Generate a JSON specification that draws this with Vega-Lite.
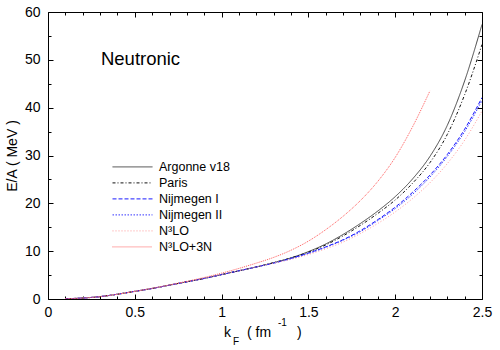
{
  "$schema": "https://vega.github.io/schema/vega-lite/v6.json",
  "width": 434,
  "height": 287,
  "autosize": "none",
  "padding": {"left": 48, "top": 12, "right": 18, "bottom": 51},
  "config": {
    "font": "Liberation Sans",
    "view": {"stroke": "black", "strokeWidth": 1},
    "axis": {"domain": false, "grid": false, "tickColor": "black", "labelColor": "black", "labelFontSize": 14, "titleFontSize": 14, "titleFontWeight": "normal", "titleColor": "black", "labelFont": "Liberation Sans", "titleFont": "Liberation Sans"}
  },
  "datasets": {
    "curves": [
      {"m": "Argonne v18", "k": 0.1, "e": 0.05}, {"m": "Argonne v18", "k": 0.2, "e": 0.2}, {"m": "Argonne v18", "k": 0.3, "e": 0.5}, {"m": "Argonne v18", "k": 0.4, "e": 1.0}, {"m": "Argonne v18", "k": 0.5, "e": 1.6}, {"m": "Argonne v18", "k": 0.6, "e": 2.2}, {"m": "Argonne v18", "k": 0.7, "e": 2.9}, {"m": "Argonne v18", "k": 0.8, "e": 3.6}, {"m": "Argonne v18", "k": 0.9, "e": 4.3}, {"m": "Argonne v18", "k": 1.0, "e": 5.1}, {"m": "Argonne v18", "k": 1.1, "e": 5.9}, {"m": "Argonne v18", "k": 1.2, "e": 6.7}, {"m": "Argonne v18", "k": 1.3, "e": 7.6}, {"m": "Argonne v18", "k": 1.4, "e": 8.6}, {"m": "Argonne v18", "k": 1.5, "e": 9.9}, {"m": "Argonne v18", "k": 1.6, "e": 11.5}, {"m": "Argonne v18", "k": 1.7, "e": 13.5}, {"m": "Argonne v18", "k": 1.8, "e": 15.8}, {"m": "Argonne v18", "k": 1.9, "e": 18.4}, {"m": "Argonne v18", "k": 2.0, "e": 21.4}, {"m": "Argonne v18", "k": 2.1, "e": 25.1}, {"m": "Argonne v18", "k": 2.2, "e": 29.8}, {"m": "Argonne v18", "k": 2.3, "e": 36.3}, {"m": "Argonne v18", "k": 2.4, "e": 45.6}, {"m": "Argonne v18", "k": 2.5, "e": 57.4},
      {"m": "Paris", "k": 0.1, "e": 0.05}, {"m": "Paris", "k": 0.2, "e": 0.2}, {"m": "Paris", "k": 0.3, "e": 0.5}, {"m": "Paris", "k": 0.4, "e": 1.0}, {"m": "Paris", "k": 0.5, "e": 1.6}, {"m": "Paris", "k": 0.6, "e": 2.2}, {"m": "Paris", "k": 0.7, "e": 2.9}, {"m": "Paris", "k": 0.8, "e": 3.6}, {"m": "Paris", "k": 0.9, "e": 4.3}, {"m": "Paris", "k": 1.0, "e": 5.1}, {"m": "Paris", "k": 1.1, "e": 5.9}, {"m": "Paris", "k": 1.2, "e": 6.7}, {"m": "Paris", "k": 1.3, "e": 7.6}, {"m": "Paris", "k": 1.4, "e": 8.6}, {"m": "Paris", "k": 1.5, "e": 9.8}, {"m": "Paris", "k": 1.6, "e": 11.3}, {"m": "Paris", "k": 1.7, "e": 13.2}, {"m": "Paris", "k": 1.8, "e": 15.4}, {"m": "Paris", "k": 1.9, "e": 17.9}, {"m": "Paris", "k": 2.0, "e": 20.7}, {"m": "Paris", "k": 2.1, "e": 24.2}, {"m": "Paris", "k": 2.2, "e": 28.5}, {"m": "Paris", "k": 2.3, "e": 34.4}, {"m": "Paris", "k": 2.4, "e": 42.7}, {"m": "Paris", "k": 2.5, "e": 53.2},
      {"m": "Nijmegen I", "k": 0.1, "e": 0.05}, {"m": "Nijmegen I", "k": 0.2, "e": 0.2}, {"m": "Nijmegen I", "k": 0.3, "e": 0.5}, {"m": "Nijmegen I", "k": 0.4, "e": 1.0}, {"m": "Nijmegen I", "k": 0.5, "e": 1.6}, {"m": "Nijmegen I", "k": 0.6, "e": 2.2}, {"m": "Nijmegen I", "k": 0.7, "e": 2.9}, {"m": "Nijmegen I", "k": 0.8, "e": 3.6}, {"m": "Nijmegen I", "k": 0.9, "e": 4.3}, {"m": "Nijmegen I", "k": 1.0, "e": 5.1}, {"m": "Nijmegen I", "k": 1.1, "e": 5.9}, {"m": "Nijmegen I", "k": 1.2, "e": 6.7}, {"m": "Nijmegen I", "k": 1.3, "e": 7.5}, {"m": "Nijmegen I", "k": 1.4, "e": 8.5}, {"m": "Nijmegen I", "k": 1.5, "e": 9.6}, {"m": "Nijmegen I", "k": 1.6, "e": 10.9}, {"m": "Nijmegen I", "k": 1.7, "e": 12.4}, {"m": "Nijmegen I", "k": 1.8, "e": 14.3}, {"m": "Nijmegen I", "k": 1.9, "e": 16.6}, {"m": "Nijmegen I", "k": 2.0, "e": 19.2}, {"m": "Nijmegen I", "k": 2.1, "e": 22.3}, {"m": "Nijmegen I", "k": 2.2, "e": 25.9}, {"m": "Nijmegen I", "k": 2.3, "e": 30.2}, {"m": "Nijmegen I", "k": 2.4, "e": 35.5}, {"m": "Nijmegen I", "k": 2.5, "e": 42.1},
      {"m": "Nijmegen II", "k": 0.1, "e": 0.05}, {"m": "Nijmegen II", "k": 0.2, "e": 0.2}, {"m": "Nijmegen II", "k": 0.3, "e": 0.5}, {"m": "Nijmegen II", "k": 0.4, "e": 1.0}, {"m": "Nijmegen II", "k": 0.5, "e": 1.6}, {"m": "Nijmegen II", "k": 0.6, "e": 2.2}, {"m": "Nijmegen II", "k": 0.7, "e": 2.9}, {"m": "Nijmegen II", "k": 0.8, "e": 3.6}, {"m": "Nijmegen II", "k": 0.9, "e": 4.3}, {"m": "Nijmegen II", "k": 1.0, "e": 5.1}, {"m": "Nijmegen II", "k": 1.1, "e": 5.9}, {"m": "Nijmegen II", "k": 1.2, "e": 6.7}, {"m": "Nijmegen II", "k": 1.3, "e": 7.5}, {"m": "Nijmegen II", "k": 1.4, "e": 8.4}, {"m": "Nijmegen II", "k": 1.5, "e": 9.5}, {"m": "Nijmegen II", "k": 1.6, "e": 10.8}, {"m": "Nijmegen II", "k": 1.7, "e": 12.3}, {"m": "Nijmegen II", "k": 1.8, "e": 14.1}, {"m": "Nijmegen II", "k": 1.9, "e": 16.4}, {"m": "Nijmegen II", "k": 2.0, "e": 18.9}, {"m": "Nijmegen II", "k": 2.1, "e": 21.9}, {"m": "Nijmegen II", "k": 2.2, "e": 25.5}, {"m": "Nijmegen II", "k": 2.3, "e": 29.8}, {"m": "Nijmegen II", "k": 2.4, "e": 35.0}, {"m": "Nijmegen II", "k": 2.5, "e": 41.5},
      {"m": "N³LO", "k": 0.1, "e": 0.05}, {"m": "N³LO", "k": 0.2, "e": 0.2}, {"m": "N³LO", "k": 0.3, "e": 0.5}, {"m": "N³LO", "k": 0.4, "e": 1.0}, {"m": "N³LO", "k": 0.5, "e": 1.6}, {"m": "N³LO", "k": 0.6, "e": 2.2}, {"m": "N³LO", "k": 0.7, "e": 2.9}, {"m": "N³LO", "k": 0.8, "e": 3.6}, {"m": "N³LO", "k": 0.9, "e": 4.3}, {"m": "N³LO", "k": 1.0, "e": 5.1}, {"m": "N³LO", "k": 1.1, "e": 5.9}, {"m": "N³LO", "k": 1.2, "e": 6.7}, {"m": "N³LO", "k": 1.3, "e": 7.5}, {"m": "N³LO", "k": 1.4, "e": 8.3}, {"m": "N³LO", "k": 1.5, "e": 9.3}, {"m": "N³LO", "k": 1.6, "e": 10.5}, {"m": "N³LO", "k": 1.7, "e": 11.9}, {"m": "N³LO", "k": 1.8, "e": 13.7}, {"m": "N³LO", "k": 1.9, "e": 15.8}, {"m": "N³LO", "k": 2.0, "e": 18.2}, {"m": "N³LO", "k": 2.1, "e": 21.0}, {"m": "N³LO", "k": 2.2, "e": 24.3}, {"m": "N³LO", "k": 2.3, "e": 28.3}, {"m": "N³LO", "k": 2.4, "e": 33.2}, {"m": "N³LO", "k": 2.5, "e": 39.3},
      {"m": "N³LO+3N", "k": 0.1, "e": 0.05}, {"m": "N³LO+3N", "k": 0.2, "e": 0.2}, {"m": "N³LO+3N", "k": 0.3, "e": 0.5}, {"m": "N³LO+3N", "k": 0.4, "e": 1.0}, {"m": "N³LO+3N", "k": 0.5, "e": 1.6}, {"m": "N³LO+3N", "k": 0.6, "e": 2.25}, {"m": "N³LO+3N", "k": 0.7, "e": 2.95}, {"m": "N³LO+3N", "k": 0.8, "e": 3.7}, {"m": "N³LO+3N", "k": 0.9, "e": 4.5}, {"m": "N³LO+3N", "k": 1.0, "e": 5.4}, {"m": "N³LO+3N", "k": 1.1, "e": 6.4}, {"m": "N³LO+3N", "k": 1.2, "e": 7.5}, {"m": "N³LO+3N", "k": 1.3, "e": 8.7}, {"m": "N³LO+3N", "k": 1.4, "e": 10.2}, {"m": "N³LO+3N", "k": 1.5, "e": 12.1}, {"m": "N³LO+3N", "k": 1.6, "e": 14.5}, {"m": "N³LO+3N", "k": 1.7, "e": 17.3}, {"m": "N³LO+3N", "k": 1.8, "e": 20.6}, {"m": "N³LO+3N", "k": 1.9, "e": 24.6}, {"m": "N³LO+3N", "k": 2.0, "e": 29.6}, {"m": "N³LO+3N", "k": 2.1, "e": 36.0}, {"m": "N³LO+3N", "k": 2.2, "e": 43.5}
    ],
    "bigtext": [
      {"t": "k", "x": 1.014, "y": -7.97},
      {"t": "( fm", "x": 1.146, "y": -7.97},
      {"t": ")", "x": 1.434, "y": -7.97}
    ],
    "smalltext": [
      {"t": "F", "x": 1.066, "y": -9.6},
      {"t": "-1", "x": 1.325, "y": -5.7}
    ],
    "label": [
      {"t": "Neutronic", "x": 0.305, "y": 48.85}
    ]
  },
  "resolve": {"axis": {"x": "independent", "y": "independent"}},
  "layer": [
    {
      "data": {"name": "curves"},
      "mark": {"type": "line", "strokeWidth": 1, "clip": true, "interpolate": "monotone"},
      "encoding": {
        "x": {"field": "k", "type": "quantitative", "scale": {"domain": [0, 2.5], "nice": false}, "axis": {"orient": "bottom", "values": [0, 0.5, 1, 1.5, 2, 2.5], "format": "~g", "tickSize": -5, "labelPadding": 11, "title": null, "labelFlush": false}},
        "y": {"field": "e", "type": "quantitative", "scale": {"domain": [0, 60], "nice": false}, "axis": {"orient": "left", "values": [0, 10, 20, 30, 40, 50, 60], "tickSize": -5, "labelPadding": 13, "title": "E/A ( MeV )", "titlePadding": 5, "labelFlush": false}},
        "color": {"field": "m", "type": "nominal", "scale": {"domain": ["Argonne v18", "Paris", "Nijmegen I", "Nijmegen II", "N³LO", "N³LO+3N"], "range": ["#444444", "#111111", "#1a1aff", "#3333ff", "#ff9a9a", "#ff5a5a"]},
          "legend": {"orient": "none", "legendX": 64, "legendY": 147, "title": null, "symbolType": "stroke", "symbolSize": 1600, "symbolStrokeWidth": 1, "clipHeight": 15.8, "rowPadding": 0, "labelFontSize": 12.5, "labelOffset": 6, "labelColor": "black", "labelFont": "Liberation Sans"}},
        "strokeDash": {"field": "m", "type": "nominal", "scale": {"domain": ["Argonne v18", "Paris", "Nijmegen I", "Nijmegen II", "N³LO", "N³LO+3N"], "range": [[1, 0], [3, 2, 1, 2], [4, 2], [1.5, 1.5], [1, 2], [1, 1]]}, "legend": {"orient": "none", "legendX": 64, "legendY": 147, "title": null, "symbolType": "stroke", "symbolSize": 1600, "symbolStrokeWidth": 1, "clipHeight": 15.8, "rowPadding": 0, "labelFontSize": 12.5, "labelOffset": 6, "labelColor": "black", "labelFont": "Liberation Sans"}}
      }
    },
    {
      "data": {"name": "curves"},
      "mark": {"type": "line", "opacity": 0},
      "encoding": {
        "x": {"field": "k", "type": "quantitative", "scale": {"domain": [0, 2.5], "nice": false}, "axis": {"orient": "top", "values": [0, 0.5, 1, 1.5, 2, 2.5], "tickSize": -5, "labels": false, "title": null}},
        "y": {"field": "e", "type": "quantitative", "scale": {"domain": [0, 60], "nice": false}, "axis": {"orient": "right", "values": [0, 10, 20, 30, 40, 50, 60], "tickSize": -5, "labels": false, "title": null}},
        "detail": {"field": "m"}
      }
    },
    {
      "data": {"name": "curves"},
      "mark": {"type": "line", "opacity": 0},
      "encoding": {
        "x": {"field": "k", "type": "quantitative", "scale": {"domain": [0, 2.5], "nice": false}, "axis": {"orient": "bottom", "values": [0.1, 0.2, 0.3, 0.4, 0.6, 0.7, 0.8, 0.9, 1.1, 1.2, 1.3, 1.4, 1.6, 1.7, 1.8, 1.9, 2.1, 2.2, 2.3, 2.4], "tickSize": -3, "labels": false, "title": null}},
        "y": {"field": "e", "type": "quantitative", "scale": {"domain": [0, 60], "nice": false}, "axis": {"orient": "left", "values": [5, 15, 25, 35, 45, 55], "tickSize": -3, "labels": false, "title": null}},
        "detail": {"field": "m"}
      }
    },
    {
      "data": {"name": "curves"},
      "mark": {"type": "line", "opacity": 0},
      "encoding": {
        "x": {"field": "k", "type": "quantitative", "scale": {"domain": [0, 2.5], "nice": false}, "axis": {"orient": "top", "values": [0.1, 0.2, 0.3, 0.4, 0.6, 0.7, 0.8, 0.9, 1.1, 1.2, 1.3, 1.4, 1.6, 1.7, 1.8, 1.9, 2.1, 2.2, 2.3, 2.4], "tickSize": -3, "labels": false, "title": null}},
        "y": {"field": "e", "type": "quantitative", "scale": {"domain": [0, 60], "nice": false}, "axis": {"orient": "right", "values": [5, 15, 25, 35, 45, 55], "tickSize": -3, "labels": false, "title": null}},
        "detail": {"field": "m"}
      }
    },
    {
      "data": {"name": "label"},
      "mark": {"type": "text", "align": "left", "baseline": "alphabetic", "fontSize": 18.5, "font": "Liberation Sans", "color": "black"},
      "encoding": {
        "x": {"field": "x", "type": "quantitative", "scale": {"domain": [0, 2.5], "nice": false}, "axis": null},
        "y": {"field": "y", "type": "quantitative", "scale": {"domain": [0, 60], "nice": false}, "axis": null},
        "text": {"field": "t"}
      }
    },
    {
      "data": {"name": "bigtext"},
      "mark": {"type": "text", "align": "left", "baseline": "alphabetic", "fontSize": 14, "font": "Liberation Sans", "color": "black", "clip": false},
      "encoding": {
        "x": {"field": "x", "type": "quantitative", "scale": {"domain": [0, 2.5], "nice": false}, "axis": null},
        "y": {"field": "y", "type": "quantitative", "scale": {"domain": [0, 60], "nice": false}, "axis": null},
        "text": {"field": "t"}
      }
    },
    {
      "data": {"name": "smalltext"},
      "mark": {"type": "text", "align": "left", "baseline": "alphabetic", "fontSize": 10, "font": "Liberation Sans", "color": "black", "clip": false},
      "encoding": {
        "x": {"field": "x", "type": "quantitative", "scale": {"domain": [0, 2.5], "nice": false}, "axis": null},
        "y": {"field": "y", "type": "quantitative", "scale": {"domain": [0, 60], "nice": false}, "axis": null},
        "text": {"field": "t"}
      }
    }
  ]
}
